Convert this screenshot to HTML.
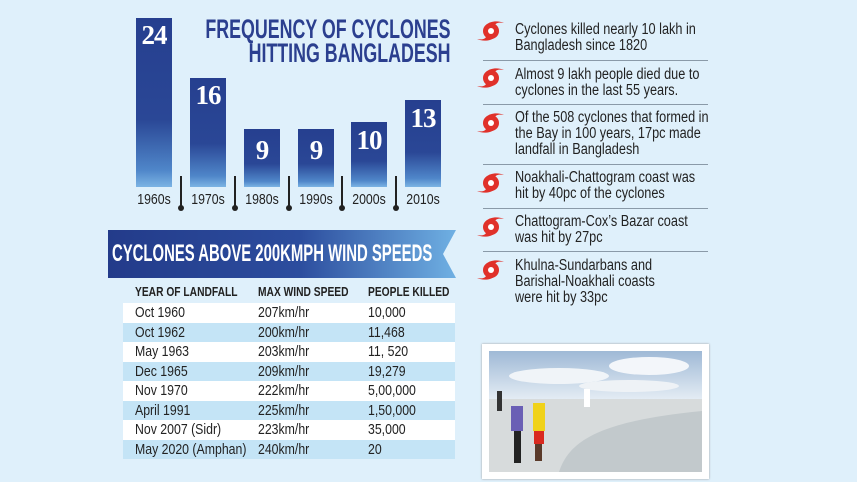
<!DOCTYPE html>
<html><head><meta charset="utf-8"><style>
*{margin:0;padding:0;box-sizing:border-box}
body{width:857px;height:482px;background:#dff0fb;position:relative;overflow:hidden;font-family:"Liberation Sans",sans-serif}
.a{position:absolute}
.bar{position:absolute;background:linear-gradient(to bottom,#263f8f 0%,#2a4796 60%,#4f86c9 90%,#7cb4e4 100%)}
.num{position:absolute;top:2px;width:100%;text-align:center;color:#fff;font-family:"Liberation Serif",serif;font-weight:bold;font-size:27px;letter-spacing:-1px}
.lab{position:absolute;top:191px;font-size:15px;color:#222;width:60px;text-align:center;transform:scaleX(.82)}
.tk{position:absolute;top:176px;width:2px;height:32px;background:#222}
.tk:after{content:"";position:absolute;left:-2px;bottom:-3px;width:6px;height:6px;border-radius:50%;background:#222}
.t{transform-origin:left top;transform:scaleX(.8);white-space:nowrap}
.row{position:absolute;left:123px;width:332px;height:19.5px;font-size:15px;color:#222}
.row span{position:absolute;top:1px;transform:scaleX(.82);transform-origin:left top;white-space:nowrap}
.li{position:absolute;left:515px;font-size:15.5px;line-height:16px;color:#222;transform:scaleX(.82);transform-origin:left top;white-space:nowrap}
.ln{position:absolute;left:483px;width:225px;height:1px;background:#8a9aa8}
.ic{position:absolute;left:477px;width:28px;height:22px}
</style></head><body>

<div class="bar" style="left:136px;top:18px;width:36px;height:169px"><div class="num">24</div></div>
<div class="bar" style="left:190px;top:78px;width:36px;height:109px"><div class="num">16</div></div>
<div class="bar" style="left:244px;top:129px;width:36px;height:58px"><div class="num" style="top:6px">9</div></div>
<div class="bar" style="left:298px;top:129px;width:36px;height:58px"><div class="num" style="top:6px">9</div></div>
<div class="bar" style="left:351px;top:122px;width:36px;height:65px"><div class="num" style="top:3px">10</div></div>
<div class="bar" style="left:405px;top:100px;width:36px;height:87px"><div class="num" style="top:3px">13</div></div>

<div class="lab" style="left:124px">1960s</div>
<div class="lab" style="left:178px">1970s</div>
<div class="lab" style="left:232px">1980s</div>
<div class="lab" style="left:286px">1990s</div>
<div class="lab" style="left:339px">2000s</div>
<div class="lab" style="left:393px">2010s</div>
<div class="tk" style="left:180px"></div><div class="tk" style="left:234px"></div><div class="tk" style="left:288px"></div><div class="tk" style="left:341px"></div><div class="tk" style="left:395px"></div>

<div class="a" style="right:406px;top:17px;text-align:right;font-weight:bold;font-size:27px;line-height:24px;color:#2b3f8f;transform:scaleX(.66);transform-origin:right top;white-space:nowrap">FREQUENCY OF CYCLONES<br>HITTING BANGLADESH</div>

<svg class="a" style="left:108px;top:230px" width="348" height="48"><defs><linearGradient id="g" x1="0" x2="1"><stop offset="0" stop-color="#233b8a"/><stop offset=".55" stop-color="#2c4d9e"/><stop offset="1" stop-color="#6fb0e3"/></linearGradient></defs><polygon points="0,0 348,0 335,24 348,48 0,48" fill="url(#g)"/></svg>
<div class="a t" style="left:112px;top:240px;color:#fff;font-weight:bold;font-size:24px;transform:scaleX(.62)">CYCLONES ABOVE 200KMPH WIND SPEEDS</div>

<div class="row" style="top:284px;font-weight:bold;font-size:12.5px"><span style="left:12px">YEAR OF LANDFALL</span><span style="left:135px">MAX WIND SPEED</span><span style="left:245px">PEOPLE KILLED</span></div>
<div class="row" style="top:303px;background:#fff"><span style="left:12px">Oct 1960</span><span style="left:135px">207km/hr</span><span style="left:245px">10,000</span></div>
<div class="row" style="top:322.5px;background:#c4e4f6"><span style="left:12px">Oct 1962</span><span style="left:135px">200km/hr</span><span style="left:245px">11,468</span></div>
<div class="row" style="top:342px;background:#fff"><span style="left:12px">May 1963</span><span style="left:135px">203km/hr</span><span style="left:245px">11, 520</span></div>
<div class="row" style="top:361.5px;background:#c4e4f6"><span style="left:12px">Dec 1965</span><span style="left:135px">209km/hr</span><span style="left:245px">19,279</span></div>
<div class="row" style="top:381px;background:#fff"><span style="left:12px">Nov 1970</span><span style="left:135px">222km/hr</span><span style="left:245px">5,00,000</span></div>
<div class="row" style="top:400.5px;background:#c4e4f6"><span style="left:12px">April 1991</span><span style="left:135px">225km/hr</span><span style="left:245px">1,50,000</span></div>
<div class="row" style="top:420px;background:#fff"><span style="left:12px">Nov 2007 (Sidr)</span><span style="left:135px">223km/hr</span><span style="left:245px">35,000</span></div>
<div class="row" style="top:439.5px;background:#c4e4f6"><span style="left:12px">May 2020 (Amphan)</span><span style="left:135px">240km/hr</span><span style="left:245px">20</span></div>

<svg width="0" height="0" style="position:absolute"><defs><g id="cy"><path d="M9,5 C14,0 23,1 27,3 C22,2 19,3 18,5 Z" fill="#e0312a"/><path d="M18,17 C13,22 4,21 0,19 C5,20 8,19 9,17 Z" fill="#e0312a"/><circle cx="14" cy="11" r="8" fill="#e0312a"/><circle cx="14" cy="11" r="3" fill="#fff"/></g></defs></svg>

<svg class="ic" style="top:20px"><use href="#cy"/></svg>
<div class="li" style="top:22px">Cyclones killed nearly 10 lakh in<br>Bangladesh since 1820</div>
<div class="ln" style="top:60px"></div>
<svg class="ic" style="top:67px"><use href="#cy"/></svg>
<div class="li" style="top:67px">Almost 9 lakh people died due to<br>cyclones in the last 55 years.</div>
<div class="ln" style="top:104px"></div>
<svg class="ic" style="top:112px"><use href="#cy"/></svg>
<div class="li" style="top:110px">Of the 508 cyclones that formed in<br>the Bay in 100 years, 17pc made<br>landfall in Bangladesh</div>
<div class="ln" style="top:164px"></div>
<svg class="ic" style="top:172px"><use href="#cy"/></svg>
<div class="li" style="top:170px">Noakhali-Chattogram coast was<br>hit by 40pc of the cyclones</div>
<div class="ln" style="top:208px"></div>
<svg class="ic" style="top:216px"><use href="#cy"/></svg>
<div class="li" style="top:214px">Chattogram-Cox’s Bazar coast<br>was hit by 27pc</div>
<div class="ln" style="top:251px"></div>
<svg class="ic" style="top:259px"><use href="#cy"/></svg>
<div class="li" style="top:258px">Khulna-Sundarbans and<br>Barishal-Noakhali coasts<br>were hit by 33pc</div>

<div class="a" style="left:482px;top:344px;width:227px;height:135px;background:#fff;box-shadow:0 0 2px #999"></div>
<svg class="a" style="left:489px;top:351px" width="213" height="121">
<defs><linearGradient id="sk" x1="0" y1="0" x2="0" y2="1"><stop offset="0" stop-color="#9fb9d6"/><stop offset="1" stop-color="#e6eef5"/></linearGradient></defs>
<rect width="213" height="50" fill="url(#sk)"/>
<ellipse cx="160" cy="15" rx="40" ry="9" fill="#f3f6fa"/><ellipse cx="70" cy="25" rx="50" ry="8" fill="#f0f4f8"/><ellipse cx="140" cy="35" rx="50" ry="6" fill="#eef2f6"/>
<rect y="48" width="213" height="73" fill="#d7dbdc"/>
<path d="M70,121 C80,90 110,70 213,60 L213,121Z" fill="#c2c9cc"/>
<rect x="22" y="55" width="12" height="25" fill="#6a5fb5"/><rect x="25" y="80" width="7" height="32" fill="#222"/>
<rect x="44" y="52" width="12" height="28" fill="#f0d21a"/><rect x="45" y="80" width="10" height="13" fill="#d92a20"/><rect x="46" y="93" width="7" height="17" fill="#5a3a2a"/>
<rect x="95" y="38" width="6" height="18" fill="#fff"/><rect x="8" y="40" width="5" height="20" fill="#333"/>
</svg>
</body></html>
